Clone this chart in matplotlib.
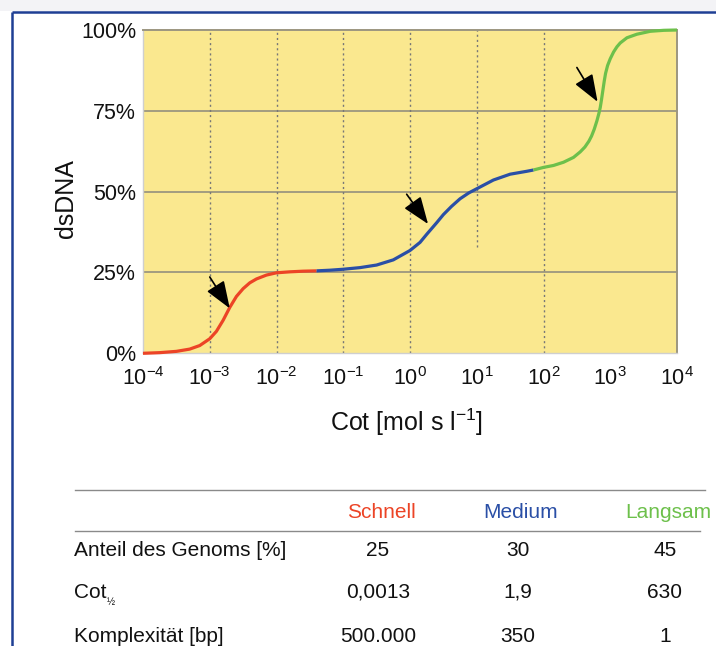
import numpy as np
import matplotlib
matplotlib.use("Agg")
import matplotlib.pyplot as plt

plt.rcParams['font.family'] = ['Liberation Sans', 'DejaVu Sans']
plt.rcParams['mathtext.fontset'] = 'custom'
plt.rcParams['mathtext.rm'] = 'Liberation Sans'
plt.rcParams['mathtext.it'] = 'Liberation Sans:italic'
plt.rcParams['mathtext.bf'] = 'Liberation Sans:bold'

# --- Daten ---
# log10(Cot) und Anteil dsDNA in %
schnell_logcot = [-4.0, -3.75, -3.5, -3.3, -3.15, -3.0, -2.9, -2.8, -2.7, -2.6, -2.5,
                  -2.4, -2.3, -2.15, -2.0, -1.8, -1.6, -1.4]
schnell_ds = [0.0, 0.2, 0.6, 1.3, 2.4, 4.5, 6.8, 10.2, 14.2, 17.6, 20.0,
              21.8, 23.0, 24.2, 24.9, 25.2, 25.4, 25.5]

medium_logcot = [-1.4, -1.2, -1.0, -0.75, -0.5, -0.25, 0.0, 0.15, 0.25, 0.4, 0.5,
                 0.62, 0.75, 0.88, 1.0, 1.25, 1.5, 1.75, 1.85]
medium_ds = [25.5, 25.7, 26.0, 26.5, 27.3, 28.9, 31.8, 34.3, 36.8, 40.4, 42.9,
             45.4, 47.8, 49.6, 50.9, 53.6, 55.4, 56.3, 56.7]

langsam_logcot = [1.85, 2.0, 2.15, 2.3, 2.45, 2.55, 2.62, 2.68, 2.72, 2.76, 2.8, 2.83,
                  2.85, 2.87, 2.89, 2.91, 2.93, 2.96, 3.0, 3.05, 3.1, 3.15, 3.25,
                  3.4, 3.6, 3.8, 4.0]
langsam_ds = [56.7, 57.5, 58.1, 59.1, 60.6, 62.3, 63.8, 65.6, 67.2, 69.3, 71.9, 74.2,
              76.0, 78.6, 81.4, 84.2, 86.6, 89.0, 91.1, 93.2, 94.8, 96.0, 97.6,
              98.7, 99.6, 99.9, 100.0]

# Pfeile: (log10 Cot, %) Start -> Spitze
pfeil_start = [(-3.0, 23.6), (-0.05, 49.2), (2.50, 88.4)]
pfeil_ziel = [(-2.70, 13.9), (0.27, 40.0), (2.81, 77.8)]

x_ticks = [1e-4, 1e-3, 1e-2, 1e-1, 1e0, 1e1, 1e2, 1e3, 1e4]
x_labels = [r'$\mathregular{10^{-4}}$', r'$\mathregular{10^{-3}}$', r'$\mathregular{10^{-2}}$',
            r'$\mathregular{10^{-1}}$', r'$\mathregular{10^{0}}$', r'$\mathregular{10^{1}}$',
            r'$\mathregular{10^{2}}$', r'$\mathregular{10^{3}}$', r'$\mathregular{10^{4}}$']
y_ticks = [0, 25, 50, 75, 100]
y_labels = ['0%', '25%', '50%', '75%', '100%']

# senkrechte Hilfslinien: Cot, von %, bis %
vgrid_cot = [1e-3, 1e-2, 1e-1, 1e0, 1e1, 1e2]
vgrid_von = [0, 0, 0, 0, 33, 0]
vgrid_bis = [100, 100, 100, 100, 100, 100]

tab_spalten = ['Schnell', 'Medium', 'Langsam']
tab_zeilen = ['Anteil des Genoms [%]', 'Cot', 'Komplexität [bp]']
tab_werte = [['25', '30', '45'],
             ['0,0013', '1,9', '630'],
             ['500.000', '350', '1']]

c_rot, c_blau, c_gruen = '#EC4426', '#2A4FA6', '#6DC04B'
gelb = '#FAE88F'

fig = plt.figure(figsize=(7.16, 6.46), dpi=100)
fig.patch.set_facecolor('white')

# Hintergrund / Rahmen / Tabelle in Pixelkoordinaten
bg = fig.add_axes([0, 0, 1, 1], zorder=-1)
bg.set_xlim(0, 716)
bg.set_ylim(646, 0)
bg.axis('off')
bg.axhspan(0, 11, color='#F3F3F6', lw=0)
bg.plot([12, 12], [12, 646], color='#1E3F94', lw=1.8, solid_capstyle='butt')
bg.plot([12, 716], [12, 12], color='#1E3F94', lw=1.8, solid_capstyle='butt')

bg.plot([75, 705], [490, 490], color='#8A8A8A', lw=1.0)
bg.plot([75, 700], [531, 531], color='#8A8A8A', lw=1.0)
spalten_x = [381, 521, 668]
for x, name, c in zip(spalten_x, tab_spalten, [c_rot, c_blau, c_gruen]):
    bg.text(x, 512, name, color=c, fontsize=15, ha='center', va='center')
zeilen_y = [550, 592, 636]
for y, name, werte in zip(zeilen_y, tab_zeilen, tab_werte):
    bg.text(74, y, name, color='#111111', fontsize=15, ha='left', va='center')
    for x, w in zip(spalten_x, werte):
        bg.text(x - 3, y, w, color='#111111', fontsize=15, ha='center', va='center')
# Index 1/2 bei Cot
bg.text(107, 602, '½', color='#111111', fontsize=7, ha='left', va='center')

# --- Diagramm ---
ax = fig.add_axes([143 / 716, 1 - 353.3 / 646, 534 / 716, 323.3 / 646])
ax.set_facecolor(gelb)
ax.set_xscale('log')
ax.set_xlim(1e-4, 1e4)
ax.set_ylim(0, 100)

for yv in [25, 50, 75]:
    ax.axhline(yv, color='#A29C80', lw=1.4, zorder=1)
for xc, y0, y1 in zip(vgrid_cot, vgrid_von, vgrid_bis):
    ax.plot([xc, xc], [y0, y1], color='#777777', lw=1.0, ls=(0, (1.5, 2.2)), zorder=1)

ax.plot(np.power(10.0, schnell_logcot), schnell_ds, color=c_rot, lw=2.3,
        solid_capstyle='butt', solid_joinstyle='round', clip_on=False, zorder=3)
ax.plot(np.power(10.0, medium_logcot), medium_ds, color=c_blau, lw=2.3,
        solid_capstyle='butt', solid_joinstyle='round', clip_on=False, zorder=3)
ax.plot(np.power(10.0, langsam_logcot), langsam_ds, color=c_gruen, lw=2.3,
        solid_capstyle='butt', solid_joinstyle='round', clip_on=False, zorder=3)

for (sx, sy), (zx, zy) in zip(pfeil_start, pfeil_ziel):
    ax.annotate('', xy=(10 ** zx, zy), xytext=(10 ** sx, sy),
                arrowprops=dict(arrowstyle='-|>,head_length=0.8,head_width=0.3',
                                color='black', lw=1.2, mutation_scale=21,
                                shrinkA=0, shrinkB=0), zorder=4)

ax.set_xticks(x_ticks)
ax.set_xticklabels(x_labels)
ax.xaxis.set_minor_locator(matplotlib.ticker.NullLocator())
ax.set_yticks(y_ticks)
ax.set_yticklabels(y_labels)
ax.tick_params(axis='both', length=0, labelsize=15.5, colors='#111111')
ax.tick_params(axis='x', pad=10)
ax.tick_params(axis='y', pad=5)

ax.set_xlabel(r'Cot [mol s l$\mathregular{^{-1}}$]', fontsize=18, color='#111111')
ax.xaxis.set_label_coords(0.493, -0.165)
ax.set_ylabel('dsDNA', fontsize=18, color='#111111')
ax.yaxis.set_label_coords(-0.122, 0.48)

for s in ['top', 'right']:
    ax.spines[s].set_color('#9C9680')
    ax.spines[s].set_linewidth(1.4)
for s in ['left', 'bottom']:
    ax.spines[s].set_color('#CFCFCF')
    ax.spines[s].set_linewidth(1.0)

fig.savefig('out.png', dpi=100)
